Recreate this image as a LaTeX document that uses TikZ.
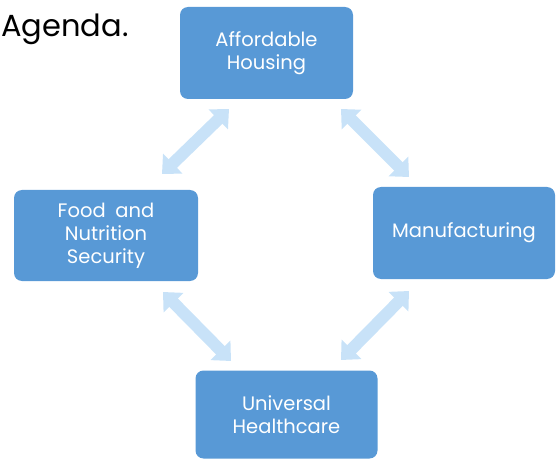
\documentclass[tikz,border=0pt]{standalone}
\usepackage{fontspec}
\setmainfont{Poppins}
\usetikzlibrary{arrows.meta}
\definecolor{boxblue}{RGB}{88,153,214}
\definecolor{arrowblue}{RGB}{200,226,248}
\tikzset{
  topic/.style={draw=none, fill=boxblue, rounded corners=8pt, text=white,
    font=\fontsize{19.5}{23}\selectfont, align=center, inner sep=0pt},
  link/.style={draw=arrowblue, line width=12pt,
    {Triangle[width=27pt,length=15pt]}-{Triangle[width=27pt,length=15pt]}}
}
\begin{document}
\begin{tikzpicture}[x=1pt,y=-1pt]
\useasboundingbox (0,0) rectangle (558,460);
\node[anchor=base west, inner sep=0pt, font=\fontsize{30.5}{34}\selectfont] (title) at (1,37) {Agenda.};
\node[topic, minimum width=173pt, minimum height=92pt] (house) at (266.5,53) {Affordable\\Housing};
\node[topic, minimum width=184pt, minimum height=91pt] (food) at (106,235.5) {Food\hspace{0.5em}and\\Nutrition\\Security};
\node[topic, minimum width=182pt, minimum height=92pt] (manu) at (464,233) {Manufacturing};
\node[topic, minimum width=182pt, minimum height=88pt] (health) at (286.5,414.5) {Universal\\Healthcare};
\coordinate (tl1) at (229,109);
\coordinate (tl2) at (162,174);
\coordinate (tr1) at (341,109);
\coordinate (tr2) at (409,177);
\coordinate (bl1) at (163,292);
\coordinate (bl2) at (231,361);
\coordinate (br1) at (409,291);
\coordinate (br2) at (341,360);
\draw[link] (tl1) -- (tl2);
\draw[link] (tr1) -- (tr2);
\draw[link] (bl1) -- (bl2);
\draw[link] (br1) -- (br2);
\end{tikzpicture}
\end{document}
